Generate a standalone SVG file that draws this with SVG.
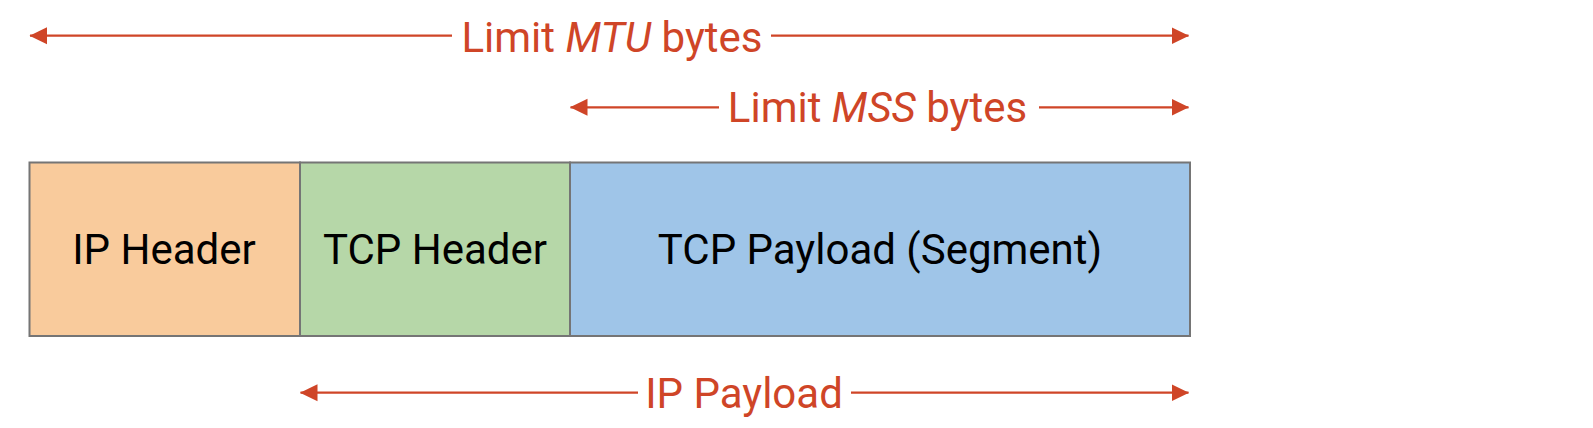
<svg xmlns="http://www.w3.org/2000/svg" width="1593" height="428" viewBox="0 0 1593 428">
  <style>
    .box { stroke: #757575; stroke-width: 2; }
    .lbl { font-family: Roboto, "Liberation Sans", sans-serif; font-size: 42px; fill: #000000; text-anchor: middle; }
    .dim { font-family: Roboto, "Liberation Sans", sans-serif; font-size: 42px; fill: #CF4527; text-anchor: middle; }
    .ln { stroke: #CF4527; stroke-width: 2.2; fill: none; }
  </style>
  <defs>
    <marker id="ah" markerUnits="userSpaceOnUse" markerWidth="18" markerHeight="18" viewBox="0 0 18 18" refX="17" refY="9" orient="auto-start-reverse">
      <path d="M0,0.5 L17.5,9 L0,17.5 Z" fill="#CF4527"/>
    </marker>
  </defs>
  <rect x="0" y="0" width="1593" height="428" fill="#ffffff"/>

  <g id="ip-header">
    <rect class="box" x="29.5" y="162.5" width="270.5" height="173.5" fill="#F9CB9C"/>
    <text class="lbl" x="164" y="263.5">IP Header</text>
  </g>
  <g id="tcp-header">
    <rect class="box" x="300" y="162.5" width="270" height="173.5" fill="#B6D7A8"/>
    <text class="lbl" x="435" y="263.5">TCP Header</text>
  </g>
  <g id="tcp-payload">
    <rect class="box" x="570" y="162.5" width="620" height="173.5" fill="#9FC5E8"/>
    <text class="lbl" x="880" y="263.5">TCP Payload (Segment)</text>
  </g>

  <g id="connectors">
    <line class="ln" x1="452" y1="35.7" x2="30" y2="35.7" marker-end="url(#ah)"/>
    <line class="ln" x1="771" y1="35.7" x2="1188.5" y2="35.7" marker-end="url(#ah)"/>
    <line class="ln" x1="719" y1="107.3" x2="570.5" y2="107.3" marker-end="url(#ah)"/>
    <line class="ln" x1="1039" y1="107.3" x2="1188.5" y2="107.3" marker-end="url(#ah)"/>
    <line class="ln" x1="638" y1="392.7" x2="300.5" y2="392.7" marker-end="url(#ah)"/>
    <line class="ln" x1="851" y1="392.7" x2="1188.5" y2="392.7" marker-end="url(#ah)"/>
  </g>

  <g id="labels">
    <text class="dim" x="612" y="51.7">Limit <tspan font-style="italic">MTU</tspan> bytes</text>
    <text class="dim" x="877.5" y="121.7">Limit <tspan font-style="italic">MSS</tspan> bytes</text>
    <text class="dim" x="744" y="407.5">IP Payload</text>
  </g>
</svg>
